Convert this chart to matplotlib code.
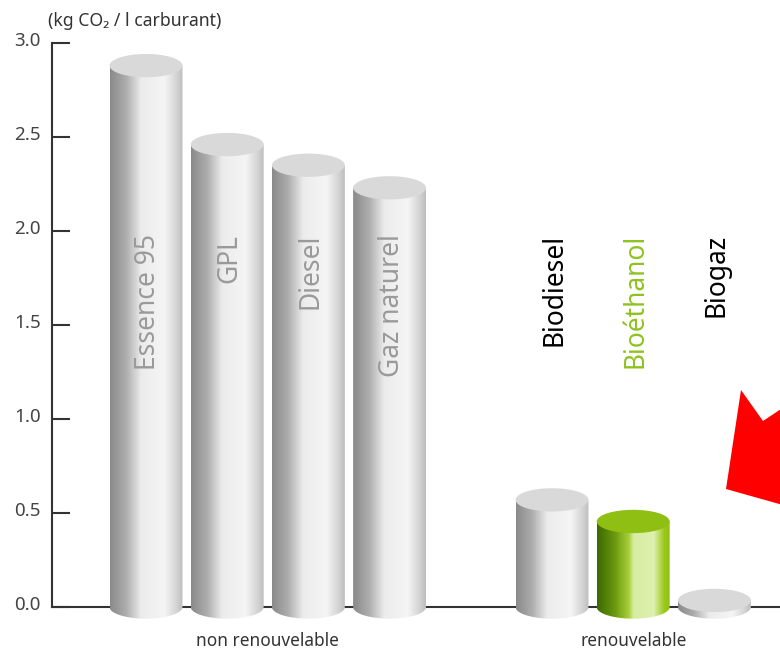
import numpy as np
import matplotlib
matplotlib.use("Agg")
import matplotlib.pyplot as plt
from matplotlib.colors import LinearSegmentedColormap
from matplotlib.patches import Ellipse, Polygon
from matplotlib.transforms import ScaledTranslation

plt.rcParams['font.family'] = ['Noto Sans', 'DejaVu Sans']

names = ['Essence 95', 'GPL', 'Diesel', 'Gaz naturel', 'Biodiesel', 'Bioéthanol', 'Biogaz']
values = [2.88, 2.46, 2.35, 2.23, 0.57, 0.455, 0.035]
slots = [0, 1, 2, 3, 5, 6, 7]
yticks = [0.0, 0.5, 1.0, 1.5, 2.0, 2.5, 3.0]
group_labels = ['non renouvelable', 'renouvelable']

half_w = 0.449   # cylinder radius, x units
half_h = 0.062   # ellipse height, y units
x_range = (-1.798, 7.808)
y_range = (-0.234, 3.229)

gray_side = LinearSegmentedColormap.from_list('gray_side', [
	(0.0, '#8a8a8a'), (0.22, '#adadad'), (0.43, '#ececec'), (0.75, '#f5f5f5'),
	(0.93, '#d0d0d0'), (1.0, '#bdbdbd')])
green_side = LinearSegmentedColormap.from_list('green_side', [
	(0.0, '#3d6804'), (0.25, '#6c9a0e'), (0.44, '#a9d03c'), (0.5, '#d6eca2'),
	(0.78, '#dff0b0'), (0.92, '#9cc91c'), (1.0, '#8fc012')])
grad = np.linspace(0, 1, 256).reshape(1, -1)

fig = plt.figure(figsize=(7.8, 6.51), dpi=100)
ax = fig.add_axes([0, 0, 1, 1])
ax.patch.set_alpha(0)
ax.set_xlim(*x_range)
ax.set_ylim(*y_range)

ax.spines['top'].set_visible(False)
ax.spines['right'].set_visible(False)
ax.spines['left'].set_position(('data', -1.157))
ax.spines['left'].set_bounds(0, 3)
ax.spines['bottom'].set_position(('data', 0))
ax.spines['bottom'].set_bounds(-1.157, x_range[1])
for s in ['left', 'bottom']:
	ax.spines[s].set_linewidth(1.5)
	ax.spines[s].set_color('#333333')

ax.set_xticks([])
ax.set_yticks(yticks)
ax.set_yticklabels(['%.1f' % t for t in yticks])
ax.tick_params(axis='y', direction='in', length=13, width=1.5, color='#333333',
	labelsize=13.5, labelcolor='#444444', pad=-2)
shift = ScaledTranslation(-10 / 72, 3 / 72, fig.dpi_scale_trans)
for lab in ax.get_yticklabels():
	lab.set_transform(lab.get_transform() + shift)

t = np.linspace(np.pi, 2 * np.pi, 60)
for i, (name, val, x) in enumerate(zip(names, values, slots)):
	green = name == 'Bioéthanol'
	im = ax.imshow(grad, cmap=green_side if green else gray_side, aspect='auto',
		extent=(x - half_w, x + half_w, -half_h, val), zorder=4)
	outline = np.column_stack([
		np.r_[x - half_w, x + half_w * np.cos(t), x + half_w],
		np.r_[val, half_h * np.sin(t), val]])
	clip = Polygon(outline, closed=True, transform=ax.transData, fc='none', ec='none')
	ax.add_patch(clip)
	im.set_clip_path(clip)
	ax.add_patch(Ellipse((x, val), 2 * half_w, 2 * half_h,
		fc='#8fbf12' if green else '#d9d9d9', ec='none', zorder=5))
	if i < 4:
		col = '#9a9a9a'
	elif green:
		col = '#8fc31f'
	else:
		col = '#000000'
	ax.text(x + 0.03, 1.985, name, rotation=90, ha='center', va='top', fontsize=19,
		color=col, zorder=6)

ax.set_xlim(*x_range)
ax.set_ylim(*y_range)

ax.text(1.5, -0.183, group_labels[0], ha='center', va='center', fontsize=12.4, color='#333333')
ax.text(6, -0.183, group_labels[1], ha='center', va='center', fontsize=12.4, color='#333333')
ax.text(48 / 780, 1 - 21 / 651, '(kg CO₂ / l carburant)', transform=fig.transFigure,
	ha='left', va='center', fontsize=12.7, color='#333333')

# red arrow pasted over the chart, runs off the right edge
arrow_px = np.array([[741, 390], [763, 421], [790, 403], [790, 507], [726, 489]])
arrow = Polygon(arrow_px / [780, -651] + [0, 1], closed=True, transform=fig.transFigure,
	fc='#ff0000', ec='none', zorder=8)
ax.add_patch(arrow)

fig.savefig('out.png', dpi=100)
